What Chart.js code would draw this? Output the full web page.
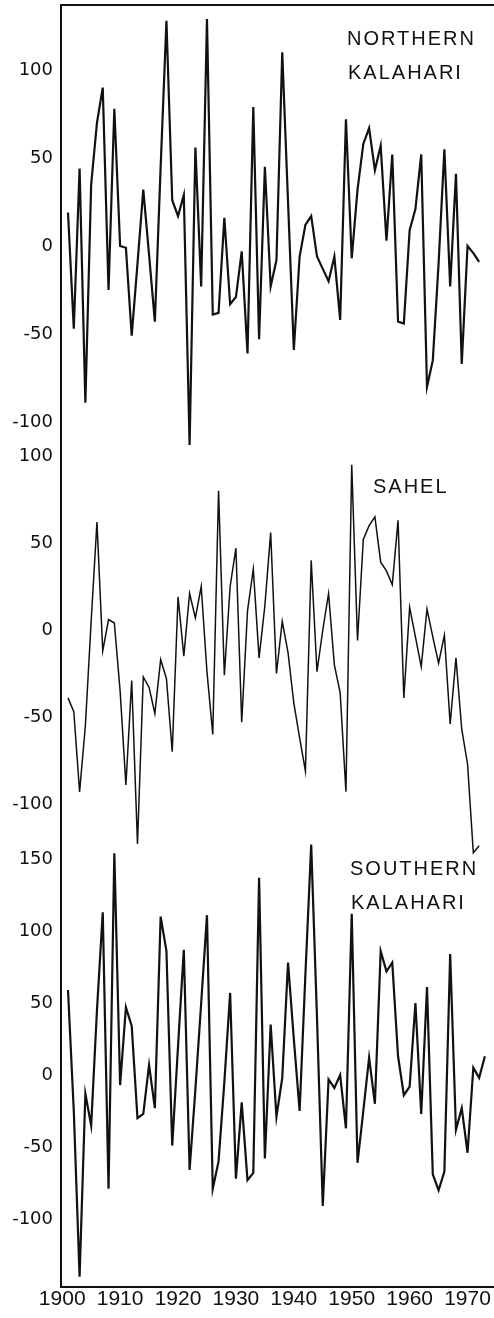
<!DOCTYPE html>
<html><head><meta charset="utf-8">
<script src="https://cdn.jsdelivr.net/npm/chart.js@4.4.1/dist/chart.umd.min.js"></script>
<style>html,body{margin:0;padding:0;background:#fff;}canvas{display:block;}</style>
</head><body>
<canvas id="c" width="494" height="1318"></canvas>
<script>
// ---------- data ----------
const yearsTo1972 = [1901,1902,1903,1904,1905,1906,1907,1908,1909,1910,
  1911,1912,1913,1914,1915,1916,1917,1918,1919,1920,
  1921,1922,1923,1924,1925,1926,1927,1928,1929,1930,
  1931,1932,1933,1934,1935,1936,1937,1938,1939,1940,
  1941,1942,1943,1944,1945,1946,1947,1948,1949,1950,
  1951,1952,1953,1954,1955,1956,1957,1958,1959,1960,
  1961,1962,1963,1964,1965,1966,1967,1968,1969,1970,
  1971,1972];
const yearsTo1973 = [1901,1902,1903,1904,1905,1906,1907,1908,1909,1910,
  1911,1912,1913,1914,1915,1916,1917,1918,1919,1920,
  1921,1922,1923,1924,1925,1926,1927,1928,1929,1930,
  1931,1932,1933,1934,1935,1936,1937,1938,1939,1940,
  1941,1942,1943,1944,1945,1946,1947,1948,1949,1950,
  1951,1952,1953,1954,1955,1956,1957,1958,1959,1960,
  1961,1962,1963,1964,1965,1966,1967,1968,1969,1970,
  1971,1972,1973];

const northernKalahari = [19,-47,44,-89,35,70,90,-25,78,0,
  -1,-51,-10,32,-5,-43,45,128,26,17,
  29,-113,56,-23,129,-39,-38,16,-33,-29,
  -3,-61,79,-53,45,-23,-8,110,25,-59,
  -6,12,17,-6,-13,-20,-6,-42,72,-7,
  32,58,67,43,57,3,52,-43,-44,9,
  21,52,-80,-65,-10,55,-23,41,-67,0,
  -4,-9];

const sahel = [-39,-47,-93,-55,5,62,-12,6,4,-35,
  -89,-29,-123,-27,-33,-48,-17,-28,-70,19,
  -15,21,7,25,-24,-60,80,-26,25,47,
  -53,11,35,-16,14,56,-25,5,-13,-42,
  -62,-81,40,-24,0,21,-20,-36,-93,95,
  -6,52,60,65,39,34,26,63,-39,13,
  -4,-21,12,-4,-19,-3,-54,-16,-57,-77,
  -128,-124];

const southernKalahari = [59,-25,-140,-13,-35,45,113,-79,154,-7,
  47,34,-30,-27,7,-23,110,86,-49,20,
  87,-66,-10,50,111,-79,-60,-5,57,-72,
  -19,-73,-68,137,-58,35,-29,-2,78,25,
  -25,70,160,40,-91,-3,-9,0,-37,112,
  -61,-25,12,-20,86,72,78,13,-14,-8,
  50,-27,61,-69,-80,-67,84,-38,-23,-54,
  5,-2,13];

const xTickYears = [1900,1910,1920,1930,1940,1950,1960,1970];
const northTicks = [-100,-50,0,50,100];
const sahelTicks = [-100,-50,0,50,100];
const southTicks = [-100,-50,0,50,100,150];
const northLabel = ['NORTHERN','KALAHARI'];
const sahelLabel = ['SAHEL'];
const southLabel = ['SOUTHERN','KALAHARI'];

// ---------- chart ----------
const ink = '#111';
const toPoints = (xs, ys) => xs.map((x, i) => ({x: x, y: ys[i]}));
const zeroPad = s => { s.paddingTop = 0; s.paddingBottom = 0; s.paddingLeft = 0; s.paddingRight = 0; };
const useTicks = arr => s => { s.ticks = arr.map(v => ({value: v})); };

function yScale(min, max, ticks, weight, stackWeight) {
  return {
    type: 'linear', position: 'left', min: min, max: max,
    weight: weight, stack: 'panels', stackWeight: stackWeight,
    grid: {display: false, drawTicks: false},
    border: {display: true, color: ink, width: 2},
    ticks: {color: ink, padding: 8, autoSkip: false,
      font: {family: "'DejaVu Sans'", size: 18},
      callback: v => String(v)},
    afterBuildTicks: useTicks(ticks),
    afterFit: s => { s.width = 61; zeroPad(s); }
  };
}

const xMin = 1899.79, xMax = 1974.57;

const panelLabels = {
  id: 'panelLabels',
  afterDatasetsDraw(chart) {
    const ctx = chart.ctx;
    ctx.save();
    ctx.fillStyle = ink;
    ctx.font = "20px 'Liberation Sans', Arial, sans-serif";
    ctx.textAlign = 'left';
    ctx.textBaseline = 'alphabetic';
    if ('letterSpacing' in ctx) ctx.letterSpacing = '2px';
    const spots = [
      [northLabel[0], 347, 44.5], [northLabel[1], 348, 79],
      [sahelLabel[0], 373, 493],
      [southLabel[0], 350, 875], [southLabel[1], 351, 909]
    ];
    spots.forEach(s => ctx.fillText(s[0], s[1], s[2]));
    ctx.restore();
  }
};

new Chart(document.getElementById('c'), {
  type: 'line',
  data: {
    datasets: [
      {label: 'Northern Kalahari', data: toPoints(yearsTo1972, northernKalahari), yAxisID: 'yN',
       borderColor: ink, borderWidth: 2.2, pointRadius: 0, tension: 0, fill: false, clip: false},
      {label: 'Sahel', data: toPoints(yearsTo1972, sahel), yAxisID: 'yS',
       borderColor: ink, borderWidth: 1.5, pointRadius: 0, tension: 0, fill: false, clip: false},
      {label: 'Southern Kalahari', data: toPoints(yearsTo1973, southernKalahari), yAxisID: 'yK',
       borderColor: ink, borderWidth: 2.2, pointRadius: 0, tension: 0, fill: false, clip: false}
    ]
  },
  options: {
    responsive: false, animation: false, devicePixelRatio: 1,
    layout: {padding: 0},
    plugins: {legend: {display: false}, tooltip: {enabled: false}},
    scales: {
      x: {
        type: 'linear', position: 'bottom', min: xMin, max: xMax,
        grid: {display: false, drawTicks: false},
        border: {display: true, color: ink, width: 2},
        ticks: {color: ink, padding: 0, maxRotation: 0, autoSkip: false,
          font: {family: "'Liberation Sans Narrow', 'Liberation Sans', Arial, sans-serif", size: 21},
          callback: v => String(v)},
        afterBuildTicks: useTicks(xTickYears),
        afterFit: s => { s.height = 31; zeroPad(s); }
      },
      xTop: {
        type: 'linear', position: 'top', min: xMin, max: xMax,
        grid: {display: false, drawTicks: false},
        border: {display: true, color: ink, width: 2},
        ticks: {display: false},
        afterFit: s => { s.height = 5; zeroPad(s); }
      },
      yN: yScale(-110.23, 136.93, northTicks, 3, 435),
      yS: yScale(-123.56, 109.20, sahelTicks, 2, 405),
      yK: yScale(-147.22, 159.72, southTicks, 1, 442)
    }
  },
  plugins: [panelLabels]
});
</script>
</body></html>
